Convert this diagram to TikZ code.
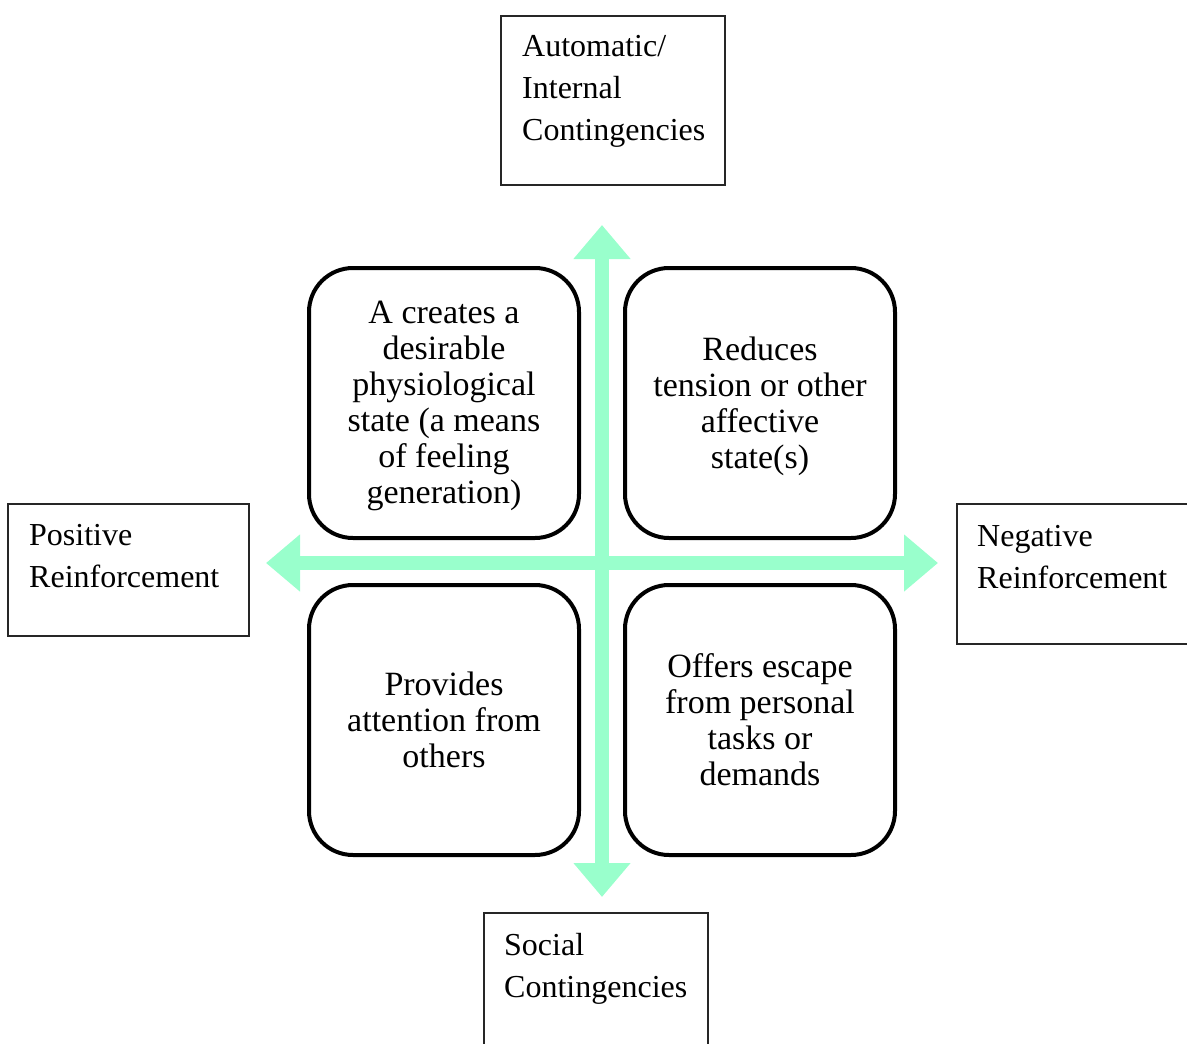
\documentclass[tikz,border=0pt]{standalone}
\usepackage{fontspec}
\setmainfont{Liberation Serif}
\usetikzlibrary{arrows.meta}
\definecolor{mint}{HTML}{99FFCC}
\tikzset{
  outerbox/.style={draw=black!85, line width=1.4pt},
  outertext/.style={anchor=base west, align=left, inner sep=0pt, font=\fontsize{32}{42}\selectfont},
  quad/.style={draw=black, line width=4pt, rounded corners=44pt, fill=white},
  quadtext/.style={align=center, inner sep=0pt, font=\fontsize{34}{36}\selectfont},
  axis/.style={mint, line width=14pt, {Triangle[width=55pt,length=34pt]}-{Triangle[width=55pt,length=34pt]}}
}
\begin{document}
\begin{tikzpicture}[x=1pt,y=-1pt]
\useasboundingbox (0,0) rectangle (1187,1044);
\clip (0,0) rectangle (1187,1044);
% axes
\coordinate (up) at (602,225);
\coordinate (down) at (602,897);
\coordinate (left) at (266,563);
\coordinate (right) at (938,563);
\draw[axis] (down) -- (up);
\draw[axis] (left) -- (right);
% quadrant boxes
\draw[quad] (309,268) rectangle (579,538);
\draw[quad] (625,268) rectangle (895,538);
\draw[quad] (309,585) rectangle (579,855);
\draw[quad] (625,585) rectangle (895,855);
\node[quadtext] (tl) at (444,406) {A creates a\\desirable\\physiological\\state (a means\\of feeling\\generation)};
\node[quadtext] (tr) at (760,406) {Reduces\\tension or other\\affective\\state(s)};
\node[quadtext] (bl) at (444,720) {Provides\\attention from\\others};
\node[quadtext] (br) at (760,720) {Offers escape\\from personal\\tasks or\\demands};
% outer boxes (anchor = baseline of last line)
\draw[outerbox] (501,16) rectangle (725,185);
\node[outertext] (auto) at (522,140) {Automatic/\\Internal\\Contingencies};
\draw[outerbox] (8,504) rectangle (249,636);
\node[outertext] (pos) at (29,587) {Positive\\Reinforcement};
\draw[outerbox] (957,504) rectangle (1200,644);
\node[outertext] (neg) at (977,588) {Negative\\Reinforcement};
\draw[outerbox] (484,913) rectangle (708,1060);
\node[outertext] (soc) at (504,997) {Social\\Contingencies};
\end{tikzpicture}
\end{document}
